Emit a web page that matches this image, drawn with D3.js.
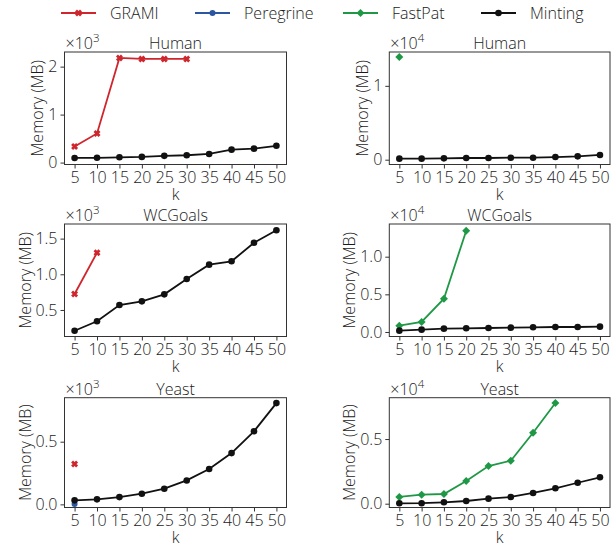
<!DOCTYPE html>
<html>
<head>
<meta charset="utf-8">
<script src="https://cdn.jsdelivr.net/npm/d3@7"></script>
<style>
  html, body { margin: 0; padding: 0; background: #fff; }
  svg { display: block; }
  text { font-family: "Open Sans", Lato, sans-serif; font-weight: 300; fill: #1a1a1a; }
</style>
</head>
<body>
<svg id="chart" width="616" height="550"></svg>
<script>
// ---------------- DATA ----------------
const ks = [5, 10, 15, 20, 25, 30, 35, 40, 45, 50];
const seriesNames = ["GRAMI", "Peregrine", "FastPat", "Minting"];
const seriesColors = ["#cf262d", "#2c56a0", "#1f9846", "#111111"];

const datasetNames = ["Human", "WCGoals", "Yeast"];

// Left column (x10^3 MB)
const gramiHumanL    = [335, 607, 2182, 2161, 2161, 2161];
const mintingHumanL  = [97, 100, 110, 118, 140, 153, 180, 270, 290, 350];
const gramiWCGoalsL  = [724, 1303];
const mintingWCGoalsL = [209, 341, 569, 621, 719, 934, 1135, 1182, 1443, 1617];
const gramiYeastL    = [322];
const peregrineYeastL = [3];
const mintingYeastL  = [32, 40, 58, 85, 125, 191, 282, 409, 583, 808];

// Right column (x10^4 MB)
const fastpatHumanR   = [13890];
const mintingHumanR   = [140, 140, 180, 230, 230, 270, 270, 360, 450, 640];
const fastpatWCGoalsR = [840, 1330, 4420, 13450];
const mintingWCGoalsR = [180, 310, 440, 490, 530, 575, 620, 660, 660, 710];
const fastpatYeastR   = [520, 700, 750, 1755, 2915, 3325, 5490, 7790];
const mintingYeastR   = [30, 40, 110, 210, 390, 520, 830, 1190, 1620, 2040];

// y tick values (raw MB) and their labels
const yTicksHumanL = [0, 1000, 2000];       const yLabelsHumanL = ["0", "1", "2"];
const yTicksWCGoalsL = [500, 1000, 1500];   const yLabelsWCGoalsL = ["0.5", "1.0", "1.5"];
const yTicksYeastL = [0, 500];              const yLabelsYeastL = ["0.0", "0.5"];
const yTicksHumanR = [0, 10000];            const yLabelsHumanR = ["0", "1"];
const yTicksWCGoalsR = [0, 5000, 10000];    const yLabelsWCGoalsR = ["0.0", "0.5", "1.0"];
const yTicksYeastR = [0, 5000];             const yLabelsYeastR = ["0.0", "0.5"];

const yDomainHumanL = [-40, 2305];
const yDomainWCGoalsL = [128, 1705];
const yDomainYeastL = [-25, 851];
const yDomainHumanR = [-650, 14580];
const yDomainWCGoalsR = [-600, 14343];
const yDomainYeastR = [-294, 8197];

const exps = [3, 4];

// ---------------- LAYOUT ----------------
const colX = [[64.5, 286.5], [389.3, 610]];
const rowY = [[52, 164.5], [224, 336.5], [397.7, 507.5]];

function pts(vals) { return vals.map((v, i) => ({k: ks[i], v})); }

const panels = [
  {row: 0, col: 0, title: datasetNames[0], dom: yDomainHumanL, ticks: yTicksHumanL, labels: yLabelsHumanL,
   series: [[0, gramiHumanL], [3, mintingHumanL]]},
  {row: 0, col: 1, title: datasetNames[0], dom: yDomainHumanR, ticks: yTicksHumanR, labels: yLabelsHumanR,
   series: [[2, fastpatHumanR], [3, mintingHumanR]]},
  {row: 1, col: 0, title: datasetNames[1], dom: yDomainWCGoalsL, ticks: yTicksWCGoalsL, labels: yLabelsWCGoalsL,
   series: [[0, gramiWCGoalsL], [3, mintingWCGoalsL]]},
  {row: 1, col: 1, title: datasetNames[1], dom: yDomainWCGoalsR, ticks: yTicksWCGoalsR, labels: yLabelsWCGoalsR,
   series: [[2, fastpatWCGoalsR], [3, mintingWCGoalsR]]},
  {row: 2, col: 0, title: datasetNames[2], dom: yDomainYeastL, ticks: yTicksYeastL, labels: yLabelsYeastL,
   series: [[0, gramiYeastL], [1, peregrineYeastL], [3, mintingYeastL]]},
  {row: 2, col: 1, title: datasetNames[2], dom: yDomainYeastR, ticks: yTicksYeastR, labels: yLabelsYeastR,
   series: [[2, fastpatYeastR], [3, mintingYeastR]]},
];

const svg = d3.select("#chart");
const FS = 16;

function drawMarker(g, si, x, y) {
  const c = seriesColors[si];
  if (si === 0) {
    const s = 2.5;
    g.append("path").attr("d", `M${x-s},${y-s}L${x+s},${y+s}M${x-s},${y+s}L${x+s},${y-s}`)
      .attr("stroke", c).attr("stroke-width", 2.8).attr("fill", "none");
  } else if (si === 1) {
    g.append("circle").attr("cx", x).attr("cy", y).attr("r", 3).attr("fill", c);
  } else if (si === 2) {
    const s = 4;
    g.append("path").attr("d", `M${x},${y-s}L${x+s},${y}L${x},${y+s}L${x-s},${y}Z`).attr("fill", c);
  } else {
    g.append("circle").attr("cx", x).attr("cy", y).attr("r", 3.3).attr("fill", c);
  }
}

panels.forEach(p => {
  const [x0, x1] = colX[p.col];
  const [y0, y1] = rowY[p.row];
  const x = d3.scaleLinear().domain([2.75, 52.25]).range([x0, x1]);
  const y = d3.scaleLinear().domain(p.dom).range([y1, y0]);
  const g = svg.append("g");

  // series
  const line = d3.line().x(d => x(d.k)).y(d => y(d.v));
  p.series.forEach(([si, vals]) => {
    const data = pts(vals);
    if (data.length > 1) {
      g.append("path").datum(data).attr("d", line).attr("fill", "none")
        .attr("stroke", seriesColors[si]).attr("stroke-width", 1.8);
    }
    data.forEach(d => drawMarker(g, si, x(d.k), y(d.v)));
  });

  // axes
  const xa = g.append("g").attr("transform", `translate(0,${y1})`)
    .call(d3.axisBottom(x).tickValues(ks).tickFormat(d3.format("d")).tickSize(4).tickPadding(3.5));
  const tickLabels = p.labels;
  const ya = g.append("g").attr("transform", `translate(${x0},0)`)
    .call(d3.axisLeft(y).tickValues(p.ticks).tickFormat((d, i) => tickLabels[i]).tickSize(4).tickPadding(3));
  [xa, ya].forEach(a => {
    a.select(".domain").remove();
    a.selectAll("line").attr("stroke", "#333");
    a.selectAll("text").style("font-size", FS + "px").attr("fill", "#1a1a1a")
      .style("font-family", "'Open Sans', Lato, sans-serif").style("font-weight", 300);
  });

  // frame
  g.append("rect").attr("x", x0).attr("y", y0).attr("width", x1 - x0).attr("height", y1 - y0)
    .attr("fill", "none").attr("stroke", "#333").attr("stroke-width", 1);

  // title
  g.append("text").attr("x", (x0 + x1) / 2).attr("y", y0 - 3).attr("text-anchor", "middle")
    .style("font-size", FS + "px").text(p.title);

  // offset text
  const ot = g.append("text").attr("x", x0 + 1).attr("y", y0 - 3).style("font-size", FS + "px");
  ot.append("tspan").text("×10");
  ot.append("tspan").attr("dy", -7).style("font-size", "11.5px").text(String(exps[p.col]));

  // axis labels
  g.append("text").attr("x", (x0 + x1) / 2).attr("y", y1 + 35.5).attr("text-anchor", "middle")
    .style("font-size", FS + "px").text("k");
  let maxW = 0;
  ya.selectAll("text").each(function() { maxW = Math.max(maxW, this.getBBox().width); });
  const lx = x0 - 4 - 3 - maxW - 10.5;
  g.append("text").attr("transform", `translate(${lx},${(y0 + y1) / 2}) rotate(-90)`)
    .attr("text-anchor", "middle").attr("dy", "0.35em").style("font-size", FS + "px").text("Memory (MB)");
});

// legend
const legX = [61, 195, 343, 481];
seriesNames.forEach((name, i) => {
  const g = svg.append("g");
  const lx = legX[i], ly = 13;
  g.append("line").attr("x1", lx).attr("x2", lx + 35).attr("y1", ly).attr("y2", ly)
    .attr("stroke", seriesColors[i]).attr("stroke-width", 1.8);
  drawMarker(g, i, lx + 17.5, ly);
  g.append("text").attr("x", lx + 49).attr("y", ly + 6).style("font-size", "16px").text(name);
});
</script>
</body>
</html>
